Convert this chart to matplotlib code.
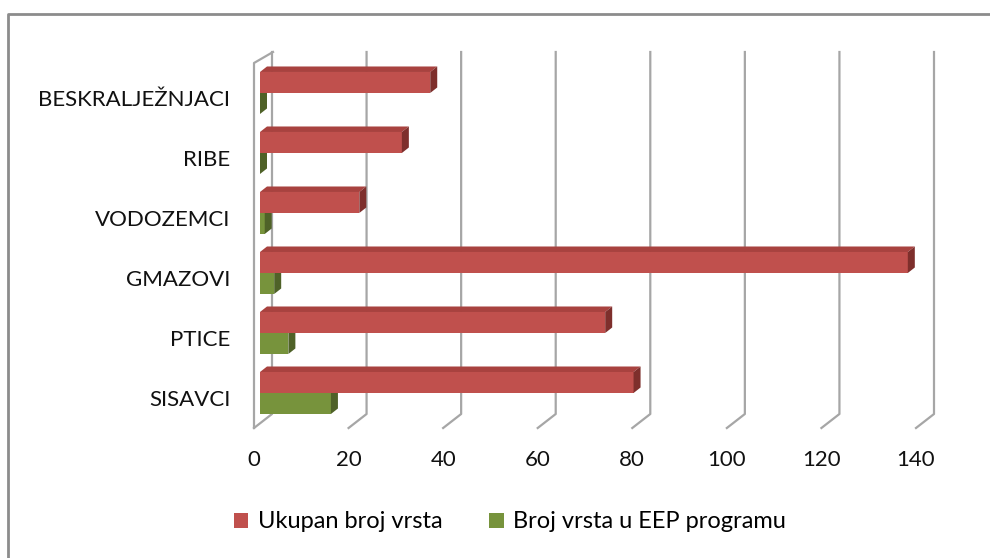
import matplotlib.pyplot as plt
from matplotlib.patches import Polygon, Patch
from matplotlib.lines import Line2D

plt.rcParams['font.family'] = ['Lato', 'DejaVu Sans']

categories = ["SISAVCI", "PTICE", "GMAZOVI", "VODOZEMCI", "RIBE", "BESKRALJEŽNJACI"]
ukupno = [79, 73, 137, 21, 30, 36]
eep = [15, 6, 3, 1, 0, 0]
x_ticks = [0, 20, 40, 60, 80, 100, 120, 140]
series_names = ["Ukupan broj vrsta", "Broj vrsta u EEP programu"]

RED, RED_TOP, RED_SIDE = "#C0504D", "#A8423F", "#7E2F2C"
GREEN, GREEN_TOP, GREEN_SIDE = "#77933C", "#627A30", "#4F6228"
GRID = "#A6A6A6"

fig = plt.figure(figsize=(9.9, 5.58), dpi=100)
ax = fig.add_axes([254 / 990, (558 - 428) / 558, 662 / 990, 365 / 558])
ax.set_xlim(0, 140)
ax.set_ylim(-0.5, 5.583)
for s in ax.spines.values():
    s.set_visible(False)
ax.set_xticks(x_ticks)
ax.set_yticks(range(len(categories)), categories)
ax.tick_params(length=0, labelsize=16, colors="#111111")
ax.tick_params(axis='x', pad=16)
ax.tick_params(axis='y', pad=17)


def px(dx, dy):
    # pixel offset -> data offset
    x0, y0 = ax.transData.transform((0, 0))
    x1, y1 = ax.transData.inverted().transform((x0 + dx, y0 + dy))
    return x1, y1


ymin, ymax = ax.get_ylim()
wx, wy = px(18, 14)      # back wall depth
tx, ty = px(19, 11)      # top of back wall
fx, fy = px(6, 5)        # front of bars
bx, by = px(7, 5.5)      # bar depth

# walls / gridlines
for t in x_ticks:
    ax.add_line(Line2D([t, t + wx, t + wx], [ymin, ymin + wy, ymax + ty],
                       color=GRID, lw=1.6, zorder=1, clip_on=False))
ax.add_line(Line2D([0, 0, tx], [ymin, ymax, ymax + ty],
                   color=GRID, lw=1.6, zorder=1, clip_on=False))

h = 0.35


def bar3d(y0, v, front, top, side, z):
    ax.barh(y0 + h / 2 + fy, v, height=h, left=fx, color=front,
            zorder=z, linewidth=0)
    y1 = y0 + h
    x0 = fx
    ax.add_patch(Polygon([(x0, y1 + fy), (x0 + v, y1 + fy),
                          (x0 + v + bx, y1 + fy + by), (x0 + bx, y1 + fy + by)],
                         closed=True, fc=top, ec='none', zorder=z, clip_on=False))
    ax.add_patch(Polygon([(x0 + v, y0 + fy), (x0 + v + bx, y0 + fy + by),
                          (x0 + v + bx, y1 + fy + by), (x0 + v, y1 + fy)],
                         closed=True, fc=side, ec='none', zorder=z, clip_on=False))


for i in range(len(categories)):
    bar3d(i - h, eep[i], GREEN, GREEN_TOP, GREEN_SIDE, 2)
    bar3d(i, ukupno[i], RED, RED_TOP, RED_SIDE, 3)

handles = [Patch(facecolor=RED, label=series_names[0]),
           Patch(facecolor=GREEN, label=series_names[1])]
fig.legend(handles=handles, loc='center', bbox_to_anchor=(510 / 990, 1 - 522 / 558),
           ncol=2, frameon=False, fontsize=17, handlelength=0.6, handleheight=0.6,
           handletextpad=0.4, columnspacing=2.0)

# outer frame (top and left edge)
fig.add_artist(Line2D([8 / 990, 8 / 990, 1], [0, 1 - 14 / 558, 1 - 14 / 558],
                      transform=fig.transFigure, color="#8C8C8C", lw=2))

fig.savefig("out.png", dpi=100)
